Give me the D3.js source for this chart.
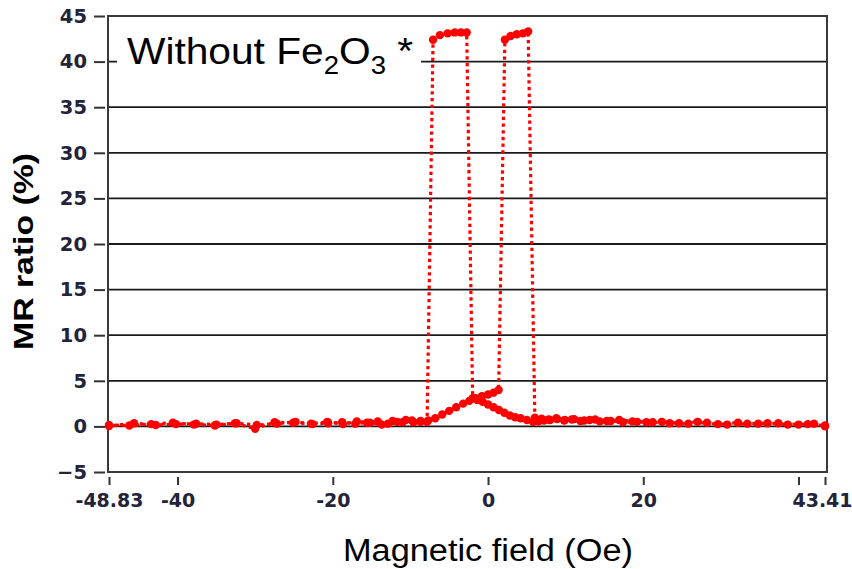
<!DOCTYPE html>
<html>
<head>
<meta charset="utf-8">
<script src="https://cdn.jsdelivr.net/npm/d3@7/dist/d3.min.js"></script>
<style>
  html, body { margin: 0; padding: 0; background: #fff; }
  svg { display: block; }
</style>
</head>
<body>
<svg id="chart" width="852" height="569"></svg>
<script>
// Field sweep from +H to -H (Oe) and the measured MR ratio (%)
const fieldDown = [43.41, 41.2, 38.6, 36.0, 33.4, 30.8, 28.2, 25.8, 23.4, 21.2,
  19.2, 17.4, 15.8, 14.4, 13.1, 11.9, 10.8, 9.8, 8.9, 8.0,
  7.2, 6.5, 5.8, 5.0, 4.2, 3.5, 2.8, 2.1, 1.4, 0.7,
  0.0, -0.7, -1.4, -1.98, -2.75, -3.5, -4.3, -5.2, -6.2, -7.08,
  -7.85, -8.7, -9.6, -10.6, -11.7, -12.9, -14.2, -15.6, -17.1, -18.8,
  -20.6, -22.6, -24.8, -27.2, -29.8, -32.4, -35.0, -37.6, -40.2, -42.8,
  -45.6, -48.83];
const mrDown = [0.1, 0.25, 0.2, 0.35, 0.3, 0.2, 0.4, 0.3, 0.35, 0.45,
  0.5, 0.45, 0.6, 0.55, 0.7, 0.6, 0.75, 0.65, 0.8, 0.7,
  0.65, 0.55, 0.5, 0.7, 0.9, 1.0, 1.2, 1.5, 1.8, 2.1,
  2.4, 2.7, 2.9, 3.1, 43.2, 43.2, 43.2, 43.1, 42.9, 42.4,
  0.5, 0.6, 0.45, 0.7, 0.5, 0.3, 0.55, 0.4, 0.3, 0.45,
  0.35, 0.25, 0.5, 0.3, 0.15, 0.35, 0.2, 0.3, 0.25, 0.15,
  0.35, 0.05];

// Field sweep from -H to +H (Oe) and the measured MR ratio (%)
const fieldUp = [-48.83, -46.2, -43.4, -40.6, -37.9, -35.2, -32.6, -30.0, -27.5, -25.1,
  -22.8, -20.7, -18.7, -16.9, -15.2, -13.7, -12.3, -11.0, -9.8, -8.7,
  -7.7, -6.8, -5.9, -5.0, -4.1, -3.2, -2.4, -1.6, -0.8, 0.0,
  0.7, 1.36, 2.17, 2.9, 3.7, 4.5, 5.17, 6.03, 6.9, 7.8,
  8.8, 9.9, 11.1, 12.4, 13.8, 15.3, 16.9, 18.6, 20.4, 22.4,
  24.6, 27.0, 29.6, 32.2, 34.8, 37.4, 40.0, 42.0, 43.41];
const mrUp = [0.15, 0.1, 0.25, 0.4, 0.2, 0.1, 0.35, -0.25, 0.45, 0.4,
  0.3, 0.5, 0.25, 0.55, 0.4, 0.2, 0.6, 0.45, 0.65, 0.5,
  0.66, 0.9, 1.3, 1.7, 2.1, 2.5, 2.8, 3.1, 3.3, 3.5,
  3.7, 4.0, 42.4, 42.8, 43.0, 43.1, 43.3, 0.95, 0.85, 0.75,
  0.9, 0.7, 0.8, 0.65, 0.75, 0.6, 0.7, 0.55, 0.45, 0.5,
  0.35, 0.5, 0.25, 0.4, 0.3, 0.35, 0.2, 0.3, 0.0];

const xTicks = [-48.83, -40, -20, 0, 20, 40, 43.41];
const xTickLabels = ["-48.83", "-40", "-20", "0", "20", "", "43.41"];
const yTicks = [-5, 0, 5, 10, 15, 20, 25, 30, 35, 40, 45];
const gridValues = [0, 5, 10, 15, 20, 25, 30, 35, 40];

const svg = d3.select("#chart");
const frame = { left: 108, right: 827, top: 16, bottom: 472 };

const x = d3.scaleLinear().domain([-48.83, 43.41]).range([109, 825]);
const y = d3.scaleLinear().domain([-5, 45]).range([472, 16]);

const tickFont = "'DejaVu Sans', Verdana, sans-serif";
const tickColor = "#23233a";

// horizontal grid lines
svg.append("g")
  .selectAll("line")
  .data(gridValues)
  .join("line")
  .attr("x1", frame.left).attr("x2", frame.right)
  .attr("y1", d => y(d)).attr("y2", d => y(d))
  .attr("stroke", "#1a1a1a")
  .attr("stroke-width", 1.8);

// plot frame
svg.append("rect")
  .attr("x", frame.left).attr("y", frame.top)
  .attr("width", frame.right - frame.left)
  .attr("height", frame.bottom - frame.top)
  .attr("fill", "none")
  .attr("stroke", "#3a3a3a")
  .attr("stroke-width", 2);

// y axis (ticks detached from the frame)
const yAxis = svg.append("g")
  .attr("transform", "translate(105,0)")
  .call(d3.axisLeft(y).tickValues(yTicks).tickSize(11).tickPadding(7).tickFormat(d3.format("d")));
yAxis.select(".domain").remove();
yAxis.selectAll(".tick line").attr("stroke", "#333").attr("stroke-width", 2);
yAxis.selectAll(".tick text")
  .attr("fill", tickColor)
  .style("font-family", tickFont)
  .style("font-weight", "bold")
  .style("font-size", "19.5px");

// x axis
const xAxis = svg.append("g")
  .attr("transform", "translate(0,477)")
  .call(d3.axisBottom(x).tickValues(xTicks).tickSize(8).tickPadding(9)
    .tickFormat((d, i) => xTickLabels[i]));
xAxis.select(".domain").remove();
xAxis.selectAll(".tick line").attr("stroke", "#333").attr("stroke-width", 2);
xAxis.selectAll(".tick text")
  .attr("fill", tickColor)
  .style("font-family", tickFont)
  .style("font-weight", "bold")
  .style("font-size", "19px");
// keep the last label inside the page
xAxis.selectAll(".tick text").filter(d => d === 43.41).attr("dx", -3);

// data: dotted connecting line plus round markers for each sweep
const sweeps = [
  fieldDown.map((f, i) => [f, mrDown[i]]),
  fieldUp.map((f, i) => [f, mrUp[i]])
];
const line = d3.line().x(d => x(d[0])).y(d => y(d[1]));
const red = "#ff0000";

svg.append("g")
  .selectAll("path")
  .data(sweeps)
  .join("path")
  .attr("d", line)
  .attr("fill", "none")
  .attr("stroke", red)
  .attr("stroke-width", 3.2)
  .attr("stroke-dasharray", "3.3 3.4");

svg.append("g")
  .selectAll("g")
  .data(sweeps)
  .join("g")
  .selectAll("circle")
  .data(d => d)
  .join("circle")
  .attr("cx", d => x(d[0]))
  .attr("cy", d => y(d[1]))
  .attr("r", 4.2)
  .attr("fill", red);

// sample label on a white box
svg.append("rect")
  .attr("x", 117).attr("y", 27)
  .attr("width", 304).attr("height", 53)
  .attr("fill", "#fff");

const label = svg.append("text")
  .attr("transform", "translate(127,64) scale(1.1,1)")
  .style("font-family", "'Liberation Sans', Arial, sans-serif")
  .style("font-size", "37px")
  .attr("fill", "#000");
label.append("tspan").text("Without Fe");
label.append("tspan").attr("dy", 10).style("font-size", "25px").text("2");
label.append("tspan").attr("dy", -10).text("O");
label.append("tspan").attr("dy", 10).style("font-size", "25px").text("3");
label.append("tspan").attr("dy", -10).text(" *");

// axis titles
svg.append("text")
  .attr("transform", "translate(33,251.5) rotate(-90)")
  .attr("text-anchor", "middle")
  .attr("textLength", 197)
  .attr("lengthAdjust", "spacingAndGlyphs")
  .style("font-family", "'Liberation Sans', Arial, sans-serif")
  .style("font-weight", "bold")
  .style("font-size", "27px")
  .attr("fill", "#000")
  .text("MR ratio (%)");

svg.append("text")
  .attr("x", 488).attr("y", 561)
  .attr("text-anchor", "middle")
  .attr("textLength", 290)
  .attr("lengthAdjust", "spacingAndGlyphs")
  .style("font-family", "'Liberation Sans', Arial, sans-serif")
  .style("font-size", "31px")
  .attr("fill", "#000")
  .text("Magnetic field (Oe)");
</script>
</body>
</html>
